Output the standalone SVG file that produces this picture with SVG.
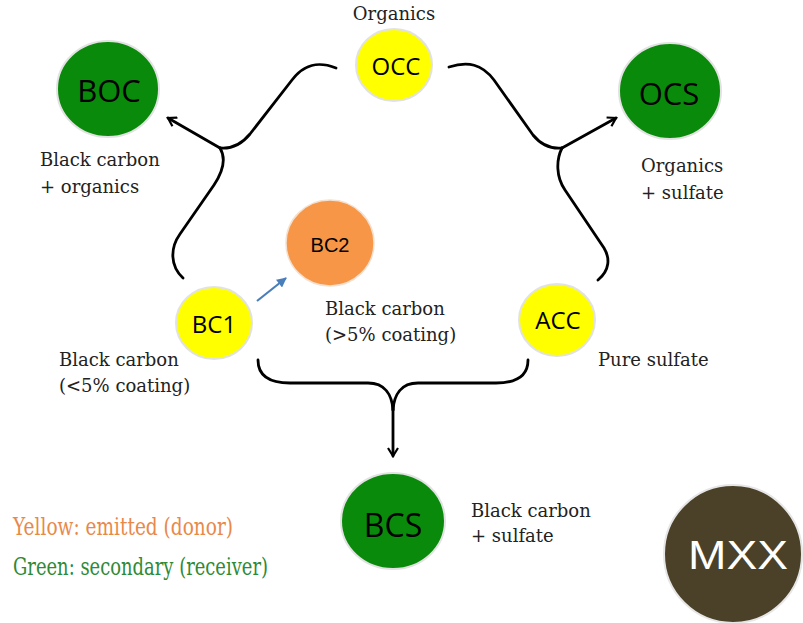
<svg xmlns="http://www.w3.org/2000/svg" width="803" height="623" viewBox="0 0 803 623">
<defs>
<marker id="chev" viewBox="0 0 12 12" refX="10" refY="6" markerWidth="12" markerHeight="12" markerUnits="userSpaceOnUse" orient="auto">
<path d="M2,1 L10,6 L2,11" fill="none" stroke="#000" stroke-width="2.2" stroke-linejoin="miter"/>
</marker>
<marker id="tri" viewBox="0 0 10 10" refX="9" refY="5" markerWidth="10" markerHeight="10" markerUnits="userSpaceOnUse" orient="auto">
<path d="M0,0 L10,5 L0,10 Z" fill="#4a7ebb"/>
</marker>
</defs>
<style>
.node{stroke:#e2e2e2;stroke-width:2}
.green{fill:#0a8a0a}
.yellow{fill:#ffff00}
.nt{font-family:"Open Sans","Liberation Sans",sans-serif;fill:#000;text-anchor:middle}
.serif{font-family:"DejaVu Serif","Liberation Serif",serif}
.lbl{font-size:18px;fill:#222}
.conn{fill:none;stroke:#000;stroke-width:2.8;stroke-linecap:round}
</style>
<rect width="803" height="623" fill="#fff"/>
<g id="connectors">
<path class="conn" d="M336,68 C318,61 304,64 292,80 L250,134 C241,145 231,149 220,148"/>
<path class="conn" d="M183,278 C170,266 170,248 180,234 L214,185 C224,170 226,158 220,148"/>
<path class="conn" d="M220,148 L168,118" marker-end="url(#chev)"/>
<path class="conn" d="M449,67 C468,61 482,64 494,80 L533,135 C542,146 552,149 562,148"/>
<path class="conn" d="M598,280 C610,270 610,258 604,248 L565,190 C556,177 556,160 562,148"/>
<path class="conn" d="M562,148 L616,118" marker-end="url(#chev)"/>
<path class="conn" d="M258,360 C258,375 268,383 290,383 L368,383 C385,383 392,395 393,410"/>
<path class="conn" d="M528,360 C528,375 518,383 496,383 L418,383 C401,383 394,395 393,410"/>
<path class="conn" d="M393,405 L393,456" marker-end="url(#chev)"/>
<path d="M257,301 L286,278" fill="none" stroke="#4a7ebb" stroke-width="2.2" marker-end="url(#tri)"/>
</g>
<g id="BOC">
<ellipse class="node green" cx="108" cy="89" rx="51" ry="48"/>
<text class="nt" x="109" y="102" font-size="31">BOC</text>
<text class="serif lbl" x="40" y="166">Black carbon</text>
<text class="serif lbl" x="40" y="193">+ organics</text>
</g>
<g id="OCC">
<ellipse class="node yellow" cx="394" cy="65" rx="38" ry="36"/>
<text class="nt" x="396" y="75" font-size="24">OCC</text>
<text class="serif lbl" x="394" y="20" text-anchor="middle">Organics</text>
</g>
<g id="OCS">
<ellipse class="node green" cx="670" cy="91" rx="51" ry="48"/>
<text class="nt" x="669" y="105" font-size="31">OCS</text>
<text class="serif lbl" x="641" y="172">Organics</text>
<text class="serif lbl" x="641" y="199">+ sulfate</text>
</g>
<g id="BC2">
<ellipse cx="330" cy="243" rx="44" ry="43" fill="#f79646" stroke="#f3e0d0" stroke-width="1.5"/>
<text x="330" y="252" font-family="'Liberation Sans',Arial,sans-serif" font-size="20" text-anchor="middle" fill="#000">BC2</text>
<text class="serif lbl" x="325" y="315">Black carbon</text>
<text class="serif lbl" x="325" y="341">(&gt;5% coating)</text>
</g>
<g id="BC1">
<ellipse class="node yellow" cx="214" cy="323" rx="38" ry="36"/>
<text class="nt" x="214" y="333" font-size="24">BC1</text>
<text class="serif lbl" x="59" y="366">Black carbon</text>
<text class="serif lbl" x="59" y="392">(&lt;5% coating)</text>
</g>
<g id="ACC">
<ellipse class="node yellow" cx="557" cy="320" rx="38" ry="36"/>
<text class="nt" x="558" y="329" font-size="24">ACC</text>
<text class="serif lbl" x="598" y="366">Pure sulfate</text>
</g>
<g id="BCS">
<ellipse class="node green" cx="393" cy="521" rx="52" ry="48"/>
<text class="nt" x="393" y="537" font-size="32">BCS</text>
<text class="serif lbl" x="471" y="517">Black carbon</text>
<text class="serif lbl" x="471" y="542">+ sulfate</text>
</g>
<g id="MXX">
<circle cx="733" cy="554" r="69" fill="#4a4128" stroke="#e6e6e6" stroke-width="2"/>
<text x="738" y="569" font-family="'Liberation Sans',Arial,sans-serif" font-size="41" fill="#fff" text-anchor="middle" textLength="100" lengthAdjust="spacingAndGlyphs">MXX</text>
</g>
<g id="legend">
<text class="serif" x="13" y="535" font-size="24" fill="#e8894a" textLength="220" lengthAdjust="spacingAndGlyphs">Yellow: emitted (donor)</text>
<text class="serif" x="13" y="575" font-size="24" fill="#2f8a36" textLength="255" lengthAdjust="spacingAndGlyphs">Green: secondary (receiver)</text>
</g>
</svg>
